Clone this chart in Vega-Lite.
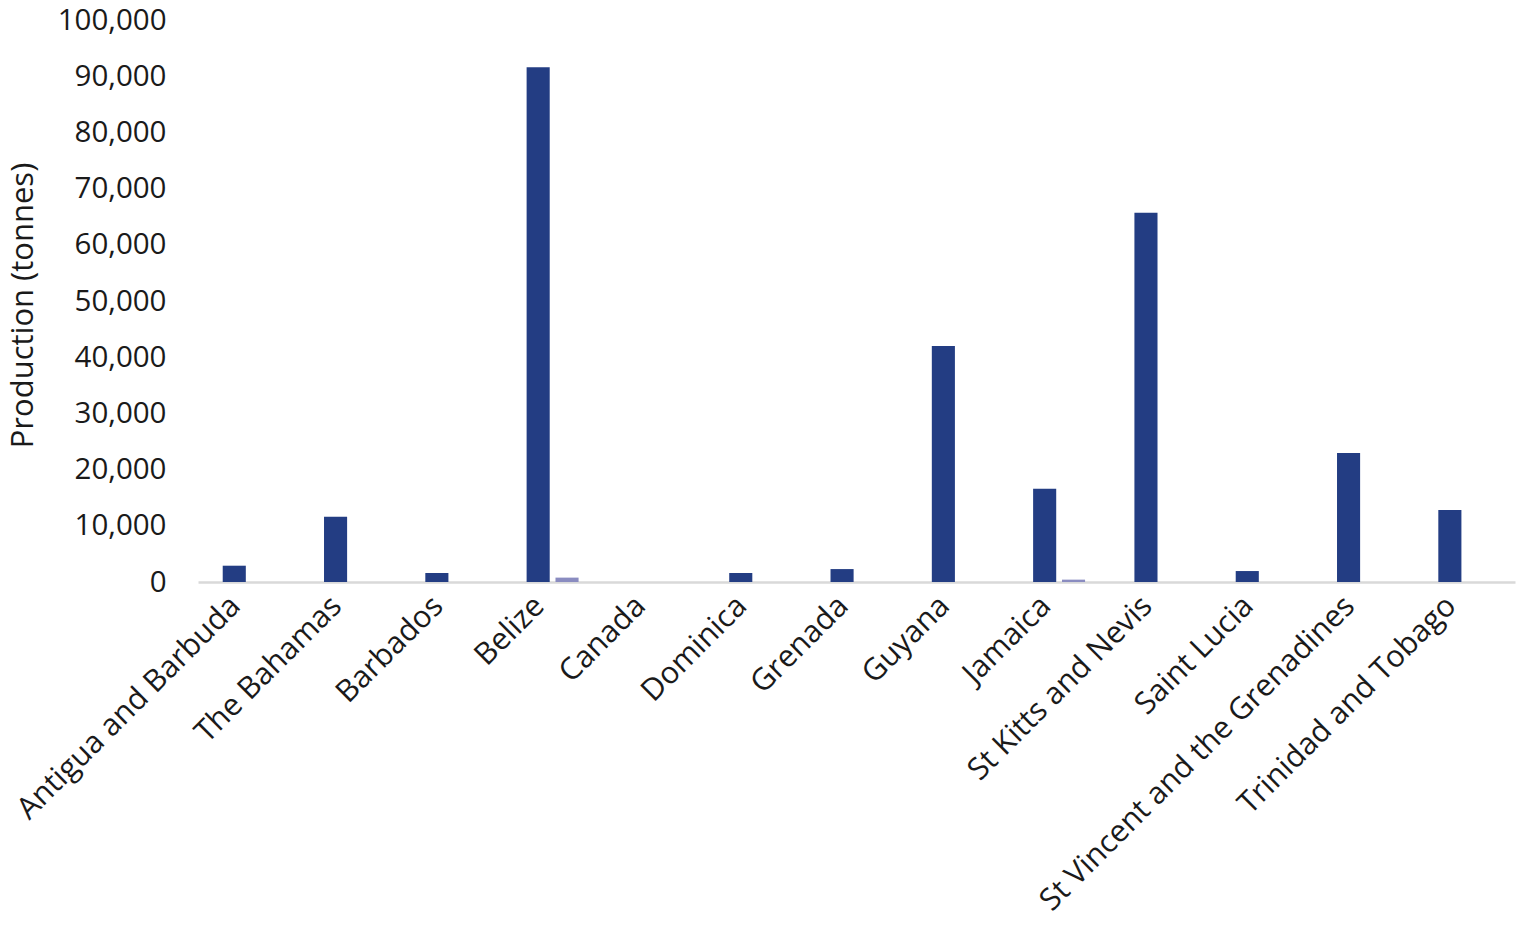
{
  "$schema": "https://vega.github.io/schema/vega-lite/v6.json",
  "width": 1317,
  "height": 562,
  "autosize": {"type": "none"},
  "padding": {"left": 198, "top": 20, "right": 1, "bottom": 346},
  "background": "white",
  "config": {
    "font": "Open Sans",
    "view": {"stroke": null}
  },
  "data": {
    "values": [
      {"Country": "Antigua and Barbuda", "Series": "Series 1", "Production": 2900},
      {"Country": "Antigua and Barbuda", "Series": "Series 2", "Production": 0},
      {"Country": "The Bahamas", "Series": "Series 1", "Production": 11600},
      {"Country": "The Bahamas", "Series": "Series 2", "Production": 0},
      {"Country": "Barbados", "Series": "Series 1", "Production": 1600},
      {"Country": "Barbados", "Series": "Series 2", "Production": 0},
      {"Country": "Belize", "Series": "Series 1", "Production": 91600},
      {"Country": "Belize", "Series": "Series 2", "Production": 780},
      {"Country": "Canada", "Series": "Series 1", "Production": 0},
      {"Country": "Canada", "Series": "Series 2", "Production": 0},
      {"Country": "Dominica", "Series": "Series 1", "Production": 1600},
      {"Country": "Dominica", "Series": "Series 2", "Production": 0},
      {"Country": "Grenada", "Series": "Series 1", "Production": 2300},
      {"Country": "Grenada", "Series": "Series 2", "Production": 0},
      {"Country": "Guyana", "Series": "Series 1", "Production": 42000},
      {"Country": "Guyana", "Series": "Series 2", "Production": 0},
      {"Country": "Jamaica", "Series": "Series 1", "Production": 16600},
      {"Country": "Jamaica", "Series": "Series 2", "Production": 420},
      {"Country": "St Kitts and Nevis", "Series": "Series 1", "Production": 65700},
      {"Country": "St Kitts and Nevis", "Series": "Series 2", "Production": 0},
      {"Country": "Saint Lucia", "Series": "Series 1", "Production": 1950},
      {"Country": "Saint Lucia", "Series": "Series 2", "Production": 0},
      {"Country": "St Vincent and the Grenadines", "Series": "Series 1", "Production": 22950},
      {"Country": "St Vincent and the Grenadines", "Series": "Series 2", "Production": 0},
      {"Country": "Trinidad and Tobago", "Series": "Series 1", "Production": 12800},
      {"Country": "Trinidad and Tobago", "Series": "Series 2", "Production": 0}
    ]
  },
  "mark": {"type": "bar"},
  "encoding": {
    "x": {
      "field": "Country",
      "type": "nominal",
      "sort": null,
      "title": null,
      "scale": {"paddingInner": 0.487, "paddingOuter": 0.244},
      "axis": {
        "labelAngle": -45,
        "labelAlign": "right",
        "labelBaseline": "middle",
        "labelFontSize": 30.5,
        "labelColor": "#1a1a1a",
        "labelPadding": 19,
        "labelOffset": -13,
        "labelLimit": 600,
        "ticks": false,
        "domainColor": "#d9d9d9",
        "domainWidth": 2.5,
        "grid": false
      }
    },
    "xOffset": {
      "field": "Series",
      "type": "nominal",
      "scale": {"paddingInner": 0.2, "paddingOuter": 0}
    },
    "y": {
      "field": "Production",
      "type": "quantitative",
      "title": "Production (tonnes)",
      "scale": {"domain": [0, 100000], "nice": false},
      "axis": {
        "values": [0, 10000, 20000, 30000, 40000, 50000, 60000, 70000, 80000, 90000, 100000],
        "format": ",d",
        "labelFontSize": 29.5,
        "labelColor": "#1a1a1a",
        "labelPadding": 32,
        "labelBaseline": "middle",
        "ticks": false,
        "domain": false,
        "grid": false,
        "titleFontSize": 31,
        "titleFontWeight": "normal",
        "titleColor": "#1a1a1a",
        "titleX": -175,
        "titleY": 285,
        "titleAngle": 270,
        "titleAlign": "center",
        "titleBaseline": "middle"
      }
    },
    "color": {
      "field": "Series",
      "type": "nominal",
      "scale": {"domain": ["Series 1", "Series 2"], "range": ["#233d83", "#8a8cc0"]},
      "legend": null
    }
  }
}
